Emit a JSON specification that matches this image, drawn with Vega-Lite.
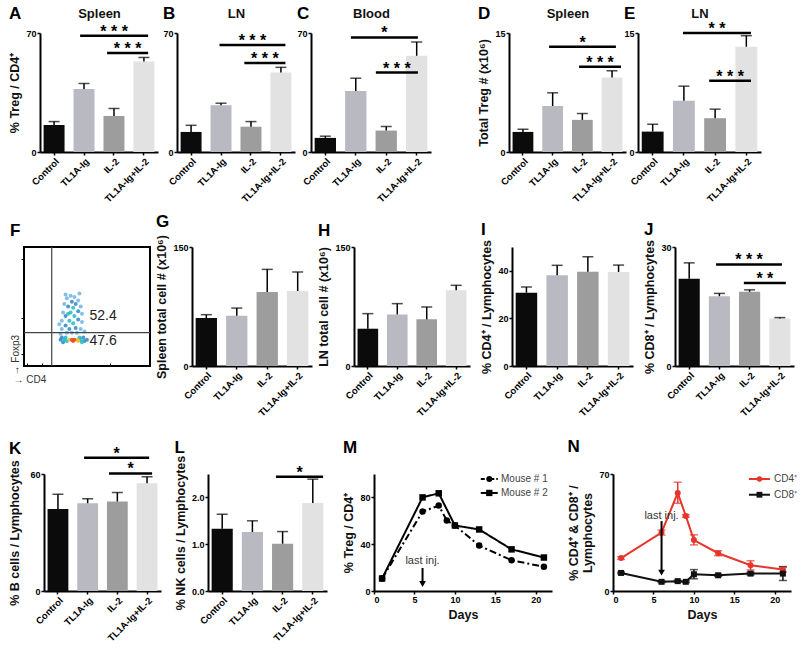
{
"$schema": "https://vega.github.io/schema/vega-lite/v6.json",
"padding": {"left": 8, "top": 5, "right": 2, "bottom": 2},
"background": "white",
"config": {
  "font": "Liberation Sans",
  "view": {"stroke": null},
  "axis": {"grid": false, "zindex": 1, "domainColor": "#000", "domainWidth": 2, "tickColor": "#000", "tickWidth": 1.5, "tickSize": 3, "labelFont": "Liberation Sans", "labelFontWeight": "bold", "labelFontSize": 9, "labelColor": "#000", "labelPadding": 1, "titleFont": "Liberation Sans", "titleFontWeight": "bold", "titleFontSize": 12.5, "titleColor": "#111", "titlePadding": 4},
  "axisBand": {"labelAngle": -45, "labelFontSize": 9.5, "tickSize": 3, "labelPadding": 1},
  "title": {"anchor": "start", "frame": "bounds", "font": "Liberation Sans", "fontSize": 17, "fontWeight": "bold", "color": "#000"},
  "range": {"category": ["#0b0b0b", "#b9b9c1", "#9d9d9d", "#e2e2e2"]}
},
"resolve": {"scale": {"color": "independent", "shape": "independent", "strokeDash": "independent"}, "legend": {"color": "independent", "shape": "independent", "strokeDash": "independent"}},
"columns": 1, "spacing": 20,
"concat": [
 {"columns": 1, "spacing": 9,
  "resolve": {"scale": {"color": "independent", "shape": "independent", "strokeDash": "independent"}, "legend": {"color": "independent", "shape": "independent", "strokeDash": "independent"}},
  "concat": [
  {"hconcat": [
   {"width": 141, "height": 119, "title": {"text": "A", "offset": -16},
    "data": {"values": [{"g": "Control", "m": 15.9, "e": 17.9}, {"g": "TL1A-Ig", "m": 37, "e": 40.3}, {"g": "IL-2", "m": 21.2, "e": 25.6}, {"g": "TL1A-Ig+IL-2", "m": 53.3, "e": 55.6}]},
    "layer": [
     {"layer": [
      {"mark": {"type": "bar"}, "encoding": {
        "x": {"field": "g", "type": "nominal", "sort": null, "title": null, "scale": {"range": [16, 134], "paddingInner": 0.3, "paddingOuter": 0.12}},
        "y": {"field": "m", "type": "quantitative", "title": "% Treg / CD4⁺", "scale": {"domain": [0, 70], "nice": false}, "axis": {"offset": -16, "labelOverlap": {"expr": "false"}, "values": [0,10,20,30,40,50,60,70]}},
        "color": {"field": "g", "type": "nominal", "sort": null, "legend": null}}},
      {"mark": {"type": "rule", "color": "#000", "strokeWidth": 1.5}, "encoding": {"x": {"field": "g", "type": "nominal", "sort": null}, "y": {"field": "m", "type": "quantitative"}, "y2": {"field": "e"}}},
      {"mark": {"type": "tick", "color": "#000", "thickness": 1.5, "size": 11}, "encoding": {"x": {"field": "g", "type": "nominal", "sort": null}, "y": {"field": "e", "type": "quantitative"}}}
     ]},
     {"data": {"values": [{"x1": 0.87, "x2": 3.14, "y": 68.4, "s": "* * *"}, {"x1": 1.77, "x2": 3.14, "y": 58.2, "s": "* * *"}]},
      "layer": [
       {"mark": {"type": "rule", "color": "#000", "strokeWidth": 2.5}, "encoding": {"x": {"field": "x1", "type": "quantitative", "scale": {"domain": [-0.47, 3.47], "range": [16, 134], "nice": false, "zero": false}, "axis": {"orient": "top", "title": "Spleen", "domain": false, "ticks": false, "labels": false, "titleFontSize": 13, "titlePadding": 13}}, "x2": {"field": "x2"}, "y": {"field": "y", "type": "quantitative"}}},
       {"transform": [{"calculate": "(datum.x1+datum.x2)/2", "as": "xm"}], "mark": {"type": "text", "fontSize": 16, "fontWeight": "bold", "baseline": "alphabetic", "dy": 1}, "encoding": {"x": {"field": "xm", "type": "quantitative"}, "y": {"field": "y", "type": "quantitative"}, "text": {"field": "s"}}}
      ]}
    ],
    "resolve": {"scale": {"x": "independent"}, "axis": {"x": "independent"}}},
   {"width": 122, "height": 119, "title": {"text": "B", "offset": -16},
    "data": {"values": [{"g": "Control", "m": 11.8, "e": 15.7}, {"g": "TL1A-Ig", "m": 27.5, "e": 28.7}, {"g": "IL-2", "m": 14.9, "e": 17.9}, {"g": "TL1A-Ig+IL-2", "m": 46.8, "e": 49.8}]},
    "layer": [
     {"layer": [
      {"mark": {"type": "bar"}, "encoding": {
        "x": {"field": "g", "type": "nominal", "sort": null, "title": null, "scale": {"range": [0, 118], "paddingInner": 0.3, "paddingOuter": 0.12}},
        "y": {"field": "m", "type": "quantitative", "title": null, "scale": {"domain": [0, 70], "nice": false}, "axis": {"labelOverlap": {"expr": "false"}, "values": [0,10,20,30,40,50,60,70]}},
        "color": {"field": "g", "type": "nominal", "sort": null, "legend": null}}},
      {"mark": {"type": "rule", "color": "#000", "strokeWidth": 1.5}, "encoding": {"x": {"field": "g", "type": "nominal", "sort": null}, "y": {"field": "m", "type": "quantitative"}, "y2": {"field": "e"}}},
      {"mark": {"type": "tick", "color": "#000", "thickness": 1.5, "size": 11}, "encoding": {"x": {"field": "g", "type": "nominal", "sort": null}, "y": {"field": "e", "type": "quantitative"}}}
     ]},
     {"data": {"values": [{"x1": 0.95, "x2": 3.15, "y": 62.9, "s": "* * *"}, {"x1": 1.78, "x2": 3.15, "y": 52.3, "s": "* * *"}]},
      "layer": [
       {"mark": {"type": "rule", "color": "#000", "strokeWidth": 2.5}, "encoding": {"x": {"field": "x1", "type": "quantitative", "scale": {"domain": [-0.47, 3.47], "range": [0, 118], "nice": false, "zero": false}, "axis": {"orient": "top", "title": "LN", "domain": false, "ticks": false, "labels": false, "titleFontSize": 13, "titlePadding": 13}}, "x2": {"field": "x2"}, "y": {"field": "y", "type": "quantitative"}}},
       {"transform": [{"calculate": "(datum.x1+datum.x2)/2", "as": "xm"}], "mark": {"type": "text", "fontSize": 16, "fontWeight": "bold", "baseline": "alphabetic", "dy": 1}, "encoding": {"x": {"field": "xm", "type": "quantitative"}, "y": {"field": "y", "type": "quantitative"}, "text": {"field": "s"}}}
      ]}
    ],
    "resolve": {"scale": {"x": "independent"}, "axis": {"x": "independent"}}},
   {"width": 186, "height": 119, "title": {"text": "C", "offset": -16},
    "data": {"values": [{"g": "Control", "m": 8.3, "e": 9.3}, {"g": "TL1A-Ig", "m": 35.9, "e": 43.4}, {"g": "IL-2", "m": 12.6, "e": 15}, {"g": "TL1A-Ig+IL-2", "m": 56.6, "e": 64.7}]},
    "layer": [
     {"layer": [
      {"mark": {"type": "bar"}, "encoding": {
        "x": {"field": "g", "type": "nominal", "sort": null, "title": null, "scale": {"range": [0, 120], "paddingInner": 0.3, "paddingOuter": 0.12}},
        "y": {"field": "m", "type": "quantitative", "title": null, "scale": {"domain": [0, 70], "nice": false}, "axis": {"labelOverlap": {"expr": "false"}, "values": [0,10,20,30,40,50,60,70]}},
        "color": {"field": "g", "type": "nominal", "sort": null, "legend": null}}},
      {"mark": {"type": "rule", "color": "#000", "strokeWidth": 1.5}, "encoding": {"x": {"field": "g", "type": "nominal", "sort": null}, "y": {"field": "m", "type": "quantitative"}, "y2": {"field": "e"}}},
      {"mark": {"type": "tick", "color": "#000", "thickness": 1.5, "size": 11}, "encoding": {"x": {"field": "g", "type": "nominal", "sort": null}, "y": {"field": "e", "type": "quantitative"}}}
     ]},
     {"data": {"values": [{"x1": 0.84, "x2": 3.04, "y": 67.4, "s": "*"}, {"x1": 1.66, "x2": 3.04, "y": 46.7, "s": "* * *"}]},
      "layer": [
       {"mark": {"type": "rule", "color": "#000", "strokeWidth": 2.5}, "encoding": {"x": {"field": "x1", "type": "quantitative", "scale": {"domain": [-0.47, 3.47], "range": [0, 120], "nice": false, "zero": false}, "axis": {"orient": "top", "title": "Blood", "domain": false, "ticks": false, "labels": false, "titleFontSize": 13, "titlePadding": 13}}, "x2": {"field": "x2"}, "y": {"field": "y", "type": "quantitative"}}},
       {"transform": [{"calculate": "(datum.x1+datum.x2)/2", "as": "xm"}], "mark": {"type": "text", "fontSize": 16, "fontWeight": "bold", "baseline": "alphabetic", "dy": 1}, "encoding": {"x": {"field": "xm", "type": "quantitative"}, "y": {"field": "y", "type": "quantitative"}, "text": {"field": "s"}}}
      ]}
    ],
    "resolve": {"scale": {"x": "independent"}, "axis": {"x": "independent"}}},
   {"width": 117, "height": 119, "title": {"text": "D", "offset": -16},
    "data": {"values": [{"g": "Control", "m": 2.53, "e": 2.87}, {"g": "TL1A-Ig", "m": 5.8, "e": 7.46}, {"g": "IL-2", "m": 4.05, "e": 4.85}, {"g": "TL1A-Ig+IL-2", "m": 9.4, "e": 10.24}]},
    "layer": [
     {"layer": [
      {"mark": {"type": "bar"}, "encoding": {
        "x": {"field": "g", "type": "nominal", "sort": null, "title": null, "scale": {"paddingInner": 0.3, "paddingOuter": 0.12}},
        "y": {"field": "m", "type": "quantitative", "title": "Total Treg # (x10⁶)", "scale": {"domain": [0, 15], "nice": false}, "axis": {"labelOverlap": {"expr": "false"}, "values": [0,5,10,15]}},
        "color": {"field": "g", "type": "nominal", "sort": null, "legend": null}}},
      {"mark": {"type": "rule", "color": "#000", "strokeWidth": 1.5}, "encoding": {"x": {"field": "g", "type": "nominal", "sort": null}, "y": {"field": "m", "type": "quantitative"}, "y2": {"field": "e"}}},
      {"mark": {"type": "tick", "color": "#000", "thickness": 1.5, "size": 11}, "encoding": {"x": {"field": "g", "type": "nominal", "sort": null}, "y": {"field": "e", "type": "quantitative"}}}
     ]},
     {"data": {"values": [{"x1": 0.88, "x2": 3.13, "y": 13.27, "s": "*"}, {"x1": 1.89, "x2": 3.3, "y": 10.75, "s": "* * *"}]},
      "layer": [
       {"mark": {"type": "rule", "color": "#000", "strokeWidth": 2.5}, "encoding": {"x": {"field": "x1", "type": "quantitative", "scale": {"domain": [-0.47, 3.47], "nice": false, "zero": false}, "axis": {"orient": "top", "title": "Spleen", "domain": false, "ticks": false, "labels": false, "titleFontSize": 13, "titlePadding": 13}}, "x2": {"field": "x2"}, "y": {"field": "y", "type": "quantitative"}}},
       {"transform": [{"calculate": "(datum.x1+datum.x2)/2", "as": "xm"}], "mark": {"type": "text", "fontSize": 16, "fontWeight": "bold", "baseline": "alphabetic", "dy": 1}, "encoding": {"x": {"field": "xm", "type": "quantitative"}, "y": {"field": "y", "type": "quantitative"}, "text": {"field": "s"}}}
      ]}
    ],
    "resolve": {"scale": {"x": "independent"}, "axis": {"x": "independent"}}},
   {"width": 123, "height": 119, "title": {"text": "E", "offset": -16},
    "data": {"values": [{"g": "Control", "m": 2.57, "e": 3.5}, {"g": "TL1A-Ig", "m": 6.45, "e": 8.3}, {"g": "IL-2", "m": 4.26, "e": 5.4}, {"g": "TL1A-Ig+IL-2", "m": 13.27, "e": 14.66}]},
    "layer": [
     {"layer": [
      {"mark": {"type": "bar"}, "encoding": {
        "x": {"field": "g", "type": "nominal", "sort": null, "title": null, "scale": {"paddingInner": 0.3, "paddingOuter": 0.12}},
        "y": {"field": "m", "type": "quantitative", "title": null, "scale": {"domain": [0, 15], "nice": false}, "axis": {"labelOverlap": {"expr": "false"}, "values": [0,5,10,15]}},
        "color": {"field": "g", "type": "nominal", "sort": null, "legend": null}}},
      {"mark": {"type": "rule", "color": "#000", "strokeWidth": 1.5}, "encoding": {"x": {"field": "g", "type": "nominal", "sort": null}, "y": {"field": "m", "type": "quantitative"}, "y2": {"field": "e"}}},
      {"mark": {"type": "tick", "color": "#000", "thickness": 1.5, "size": 11}, "encoding": {"x": {"field": "g", "type": "nominal", "sort": null}, "y": {"field": "e", "type": "quantitative"}}}
     ]},
     {"data": {"values": [{"x1": 0.97, "x2": 3.15, "y": 15.0, "s": "* *"}, {"x1": 1.81, "x2": 3.15, "y": 8.98, "s": "* * *"}]},
      "layer": [
       {"mark": {"type": "rule", "color": "#000", "strokeWidth": 2.5}, "encoding": {"x": {"field": "x1", "type": "quantitative", "scale": {"domain": [-0.47, 3.47], "nice": false, "zero": false}, "axis": {"orient": "top", "title": "LN", "domain": false, "ticks": false, "labels": false, "titleFontSize": 13, "titlePadding": 13}}, "x2": {"field": "x2"}, "y": {"field": "y", "type": "quantitative"}}},
       {"transform": [{"calculate": "(datum.x1+datum.x2)/2", "as": "xm"}], "mark": {"type": "text", "fontSize": 16, "fontWeight": "bold", "baseline": "alphabetic", "dy": 1}, "encoding": {"x": {"field": "xm", "type": "quantitative"}, "y": {"field": "y", "type": "quantitative"}, "text": {"field": "s"}}}
      ]}
    ],
    "resolve": {"scale": {"x": "independent"}, "axis": {"x": "independent"}}}
  ], "spacing": 12, "bounds": "flush",
  "resolve": {"scale": {"color": "independent", "shape": "independent", "strokeDash": "independent"}, "legend": {"color": "independent", "shape": "independent", "strokeDash": "independent"}}},
  {"hconcat": [
   {"width": 126, "height": 119, "title": {"text": "F", "offset": 6},
    "view": {"stroke": "#000", "strokeWidth": 2},
    "layer": [
     {"data": {"values": [
       {"cd4": 0.30, "foxp3": 0.31, "lvl": 1}, {"cd4": 0.30, "foxp3": 0.38, "lvl": 1}, {"cd4": 0.31, "foxp3": 0.45, "lvl": 1}, {"cd4": 0.32, "foxp3": 0.52, "lvl": 1}, {"cd4": 0.34, "foxp3": 0.57, "lvl": 1}, {"cd4": 0.37, "foxp3": 0.59, "lvl": 1}, {"cd4": 0.40, "foxp3": 0.58, "lvl": 1}, {"cd4": 0.43, "foxp3": 0.55, "lvl": 1}, {"cd4": 0.45, "foxp3": 0.50, "lvl": 1}, {"cd4": 0.46, "foxp3": 0.44, "lvl": 1}, {"cd4": 0.46, "foxp3": 0.37, "lvl": 1}, {"cd4": 0.45, "foxp3": 0.31, "lvl": 1}, {"cd4": 0.42, "foxp3": 0.28, "lvl": 1}, {"cd4": 0.38, "foxp3": 0.28, "lvl": 1}, {"cd4": 0.34, "foxp3": 0.28, "lvl": 1}, {"cd4": 0.29, "foxp3": 0.27, "lvl": 1}, {"cd4": 0.48, "foxp3": 0.29, "lvl": 1}, {"cd4": 0.44, "foxp3": 0.61, "lvl": 1}, {"cd4": 0.33, "foxp3": 0.60, "lvl": 1}, {"cd4": 0.28, "foxp3": 0.35, "lvl": 1},
       {"cd4": 0.29, "foxp3": 0.22, "lvl": 2}, {"cd4": 0.31, "foxp3": 0.20, "lvl": 2}, {"cd4": 0.48, "foxp3": 0.21, "lvl": 2}, {"cd4": 0.50, "foxp3": 0.22, "lvl": 2}, {"cd4": 0.30, "foxp3": 0.24, "lvl": 2}, {"cd4": 0.47, "foxp3": 0.24, "lvl": 2},
       {"cd4": 0.33, "foxp3": 0.34, "lvl": 2}, {"cd4": 0.33, "foxp3": 0.42, "lvl": 2}, {"cd4": 0.35, "foxp3": 0.50, "lvl": 2}, {"cd4": 0.38, "foxp3": 0.54, "lvl": 2}, {"cd4": 0.41, "foxp3": 0.52, "lvl": 2}, {"cd4": 0.43, "foxp3": 0.46, "lvl": 2}, {"cd4": 0.43, "foxp3": 0.39, "lvl": 2}, {"cd4": 0.41, "foxp3": 0.32, "lvl": 2}, {"cd4": 0.36, "foxp3": 0.31, "lvl": 2},
       {"cd4": 0.36, "foxp3": 0.38, "lvl": 3}, {"cd4": 0.37, "foxp3": 0.45, "lvl": 3}, {"cd4": 0.39, "foxp3": 0.49, "lvl": 3}, {"cd4": 0.40, "foxp3": 0.42, "lvl": 3}, {"cd4": 0.39, "foxp3": 0.36, "lvl": 3}, {"cd4": 0.35, "foxp3": 0.44, "lvl": 3},
       {"cd4": 0.32, "foxp3": 0.22, "lvl": 3}, {"cd4": 0.34, "foxp3": 0.21, "lvl": 3}, {"cd4": 0.45, "foxp3": 0.22, "lvl": 3}, {"cd4": 0.46, "foxp3": 0.20, "lvl": 3}, {"cd4": 0.33, "foxp3": 0.24, "lvl": 3}, {"cd4": 0.44, "foxp3": 0.24, "lvl": 3},
       {"cd4": 0.36, "foxp3": 0.22, "lvl": 4}, {"cd4": 0.42, "foxp3": 0.22, "lvl": 4}, {"cd4": 0.43, "foxp3": 0.21, "lvl": 4},
       {"cd4": 0.38, "foxp3": 0.22, "lvl": 5}, {"cd4": 0.40, "foxp3": 0.22, "lvl": 5}, {"cd4": 0.39, "foxp3": 0.21, "lvl": 5}
      ]},
      "mark": {"type": "circle", "size": 16, "opacity": 0.85},
      "encoding": {
       "x": {"field": "cd4", "type": "quantitative", "scale": {"domain": [0, 1], "nice": false, "zero": false}, "axis": {"title": "→ CD4", "values": [0.02,0.05,0.08,0.11,0.14,0.17,0.22,0.39,0.68,0.92], "labels": false, "domain": false, "tickSize": -3, "tickWidth": 1, "titleFontWeight": "normal", "titleFontSize": 10, "titleAlign": "left", "titleX": -11, "titleY": 13, "titleBaseline": "middle", "titleColor": "#333"}},
       "y": {"field": "foxp3", "type": "quantitative", "scale": {"domain": [0, 1], "nice": false, "zero": false}, "axis": {"title": "→ Foxp3", "values": [0.1,0.23,0.4,0.66,0.9], "labels": false, "domain": false, "tickSize": 3, "tickWidth": 1, "titleFontWeight": "normal", "titleFontSize": 10, "titleAlign": "left", "titleAngle": -90, "titleX": -9, "titleY": 128, "titleBaseline": "middle", "titleColor": "#333"}},
       "color": {"field": "lvl", "type": "ordinal", "scale": {"domain": [1, 2, 3, 4, 5], "range": ["#6fb4e8", "#2f86c9", "#22b8c2", "#f2c022", "#ec4522"]}, "legend": null}}},
     {"data": {"values": [{"gx": 0.22, "gy": 0.28}]}, "layer": [
       {"mark": {"type": "rule", "color": "#444", "strokeWidth": 1.2}, "encoding": {"x": {"field": "gx", "type": "quantitative"}}},
       {"mark": {"type": "rule", "color": "#444", "strokeWidth": 1.2}, "encoding": {"y": {"field": "gy", "type": "quantitative"}}}
     ]},
     {"data": {"values": [{"pct": "52.4", "px": 0.52, "py": 0.42}, {"pct": "47.6", "px": 0.52, "py": 0.21}]},
      "mark": {"type": "text", "align": "left", "baseline": "middle", "fontSize": 14, "color": "#222"},
      "encoding": {"x": {"field": "px", "type": "quantitative"}, "y": {"field": "py", "type": "quantitative"}, "text": {"field": "pct"}}}
    ]},
   {"width": 120, "height": 119, "title": {"text": "G", "offset": 3},
    "data": {"values": [{"g": "Control", "m": 60.4, "e": 64.7}, {"g": "TL1A-Ig", "m": 63.4, "e": 73}, {"g": "IL-2", "m": 93.3, "e": 121.8}, {"g": "TL1A-Ig+IL-2", "m": 94.5, "e": 118.5}]},
    "layer": [
      {"mark": {"type": "bar"}, "encoding": {
        "x": {"field": "g", "type": "nominal", "sort": null, "title": null, "scale": {"paddingInner": 0.3, "paddingOuter": 0.12}},
        "y": {"field": "m", "type": "quantitative", "title": "Spleen total cell # (x10⁶)", "scale": {"domain": [0, 150], "nice": false}, "axis": {"labelOverlap": {"expr": "false"}, "values": [0,50,100,150]}},
        "color": {"field": "g", "type": "nominal", "sort": null, "legend": null}}},
      {"mark": {"type": "rule", "color": "#000", "strokeWidth": 1.5}, "encoding": {"x": {"field": "g", "type": "nominal", "sort": null}, "y": {"field": "m", "type": "quantitative"}, "y2": {"field": "e"}}},
      {"mark": {"type": "tick", "color": "#000", "thickness": 1.5, "size": 11}, "encoding": {"x": {"field": "g", "type": "nominal", "sort": null}, "y": {"field": "e", "type": "quantitative"}}}
    ]},
   {"width": 116, "height": 119, "title": {"text": "H", "offset": 3},
    "data": {"values": [{"g": "Control", "m": 47, "e": 66}, {"g": "TL1A-Ig", "m": 65, "e": 78.6}, {"g": "IL-2", "m": 58.8, "e": 74.4}, {"g": "TL1A-Ig+IL-2", "m": 95.4, "e": 101.7}]},
    "layer": [
      {"mark": {"type": "bar"}, "encoding": {
        "x": {"field": "g", "type": "nominal", "sort": null, "title": null, "scale": {"paddingInner": 0.3, "paddingOuter": 0.12}},
        "y": {"field": "m", "type": "quantitative", "title": "LN total cell # (x10⁶)", "scale": {"domain": [0, 150], "nice": false}, "axis": {"labelOverlap": {"expr": "false"}, "values": [0,50,100,150]}},
        "color": {"field": "g", "type": "nominal", "sort": null, "legend": null}}},
      {"mark": {"type": "rule", "color": "#000", "strokeWidth": 1.5}, "encoding": {"x": {"field": "g", "type": "nominal", "sort": null}, "y": {"field": "m", "type": "quantitative"}, "y2": {"field": "e"}}},
      {"mark": {"type": "tick", "color": "#000", "thickness": 1.5, "size": 11}, "encoding": {"x": {"field": "g", "type": "nominal", "sort": null}, "y": {"field": "e", "type": "quantitative"}}}
    ]},
   {"width": 121, "height": 119, "title": {"text": "I", "offset": 0},
    "data": {"values": [{"g": "Control", "m": 30.8, "e": 33.2}, {"g": "TL1A-Ig", "m": 38.1, "e": 42.3}, {"g": "IL-2", "m": 39.6, "e": 45.9}, {"g": "TL1A-Ig+IL-2", "m": 39.5, "e": 42.4}]},
    "layer": [
      {"mark": {"type": "bar"}, "encoding": {
        "x": {"field": "g", "type": "nominal", "sort": null, "title": null, "scale": {"paddingInner": 0.3, "paddingOuter": 0.12}},
        "y": {"field": "m", "type": "quantitative", "title": "% CD4⁺ / Lymphocytes", "scale": {"domain": [0, 50], "nice": false}, "axis": {"labelOverlap": {"expr": "false"}, "values": [0,10,20,30,40,50]}},
        "color": {"field": "g", "type": "nominal", "sort": null, "legend": null}}},
      {"mark": {"type": "rule", "color": "#000", "strokeWidth": 1.5}, "encoding": {"x": {"field": "g", "type": "nominal", "sort": null}, "y": {"field": "m", "type": "quantitative"}, "y2": {"field": "e"}}},
      {"mark": {"type": "tick", "color": "#000", "thickness": 1.5, "size": 11}, "encoding": {"x": {"field": "g", "type": "nominal", "sort": null}, "y": {"field": "e", "type": "quantitative"}}}
    ]},
   {"width": 119, "height": 119, "title": {"text": "J", "offset": 0},
    "data": {"values": [{"g": "Control", "m": 22, "e": 26}, {"g": "TL1A-Ig", "m": 17.6, "e": 18.3}, {"g": "IL-2", "m": 18.7, "e": 19.2}, {"g": "TL1A-Ig+IL-2", "m": 12.0, "e": 12.2}]},
    "layer": [
     {"layer": [
      {"mark": {"type": "bar"}, "encoding": {
        "x": {"field": "g", "type": "nominal", "sort": null, "title": null, "scale": {"paddingInner": 0.3, "paddingOuter": 0.12}},
        "y": {"field": "m", "type": "quantitative", "title": "% CD8⁺ / Lymphocytes", "scale": {"domain": [0, 30], "nice": false}, "axis": {"labelOverlap": {"expr": "false"}, "values": [0,5,10,15,20,25,30]}},
        "color": {"field": "g", "type": "nominal", "sort": null, "legend": null}}},
      {"mark": {"type": "rule", "color": "#000", "strokeWidth": 1.5}, "encoding": {"x": {"field": "g", "type": "nominal", "sort": null}, "y": {"field": "m", "type": "quantitative"}, "y2": {"field": "e"}}},
      {"mark": {"type": "tick", "color": "#000", "thickness": 1.5, "size": 11}, "encoding": {"x": {"field": "g", "type": "nominal", "sort": null}, "y": {"field": "e", "type": "quantitative"}}}
     ]},
     {"data": {"values": [{"x1": 0.89, "x2": 3.07, "y": 25.6, "s": "* * *"}, {"x1": 1.81, "x2": 3.2, "y": 20.9, "s": "* *"}]},
      "layer": [
       {"mark": {"type": "rule", "color": "#000", "strokeWidth": 2.5}, "encoding": {"x": {"field": "x1", "type": "quantitative", "scale": {"domain": [-0.47, 3.47], "nice": false, "zero": false}, "axis": null}, "x2": {"field": "x2"}, "y": {"field": "y", "type": "quantitative"}}},
       {"transform": [{"calculate": "(datum.x1+datum.x2)/2", "as": "xm"}], "mark": {"type": "text", "fontSize": 16, "fontWeight": "bold", "baseline": "alphabetic", "dy": 1}, "encoding": {"x": {"field": "xm", "type": "quantitative", "axis": null}, "y": {"field": "y", "type": "quantitative"}, "text": {"field": "s"}}}
      ]}
    ],
    "resolve": {"scale": {"x": "independent"}, "axis": {"x": "independent"}}}
  ], "spacing": 42, "bounds": "flush",
  "resolve": {"scale": {"color": "independent", "shape": "independent", "strokeDash": "independent"}, "legend": {"color": "independent", "shape": "independent", "strokeDash": "independent"}}}
 ]},
 {"hconcat": [
   {"width": 137, "height": 117, "title": {"text": "K", "offset": -12},
    "data": {"values": [{"g": "Control", "m": 42, "e": 49.6}, {"g": "TL1A-Ig", "m": 45, "e": 47.3}, {"g": "IL-2", "m": 45.9, "e": 50.5}, {"g": "TL1A-Ig+IL-2", "m": 55.2, "e": 58.6}]},
    "layer": [
     {"layer": [
      {"mark": {"type": "bar"}, "encoding": {
        "x": {"field": "g", "type": "nominal", "sort": null, "title": null, "scale": {"range": [20, 137], "paddingInner": 0.3, "paddingOuter": 0.12}},
        "y": {"field": "m", "type": "quantitative", "title": "% B cells / Lymphocytes", "scale": {"domain": [0, 60], "nice": false}, "axis": {"offset": -20, "labelOverlap": {"expr": "false"}, "values": [0,10,20,30,40,50,60], "titlePadding": 8}},
        "color": {"field": "g", "type": "nominal", "sort": null, "legend": null}}},
      {"mark": {"type": "rule", "color": "#000", "strokeWidth": 1.5}, "encoding": {"x": {"field": "g", "type": "nominal", "sort": null}, "y": {"field": "m", "type": "quantitative"}, "y2": {"field": "e"}}},
      {"mark": {"type": "tick", "color": "#000", "thickness": 1.5, "size": 11}, "encoding": {"x": {"field": "g", "type": "nominal", "sort": null}, "y": {"field": "e", "type": "quantitative"}}}
     ]},
     {"data": {"values": [{"x1": 0.88, "x2": 3.07, "y": 68.3, "s": "*"}, {"x1": 1.72, "x2": 3.17, "y": 60.3, "s": "*"}]},
      "layer": [
       {"mark": {"type": "rule", "color": "#000", "strokeWidth": 2.5}, "encoding": {"x": {"field": "x1", "type": "quantitative", "scale": {"domain": [-0.47, 3.47], "range": [20, 137], "nice": false, "zero": false}, "axis": null}, "x2": {"field": "x2"}, "y": {"field": "y", "type": "quantitative"}}},
       {"transform": [{"calculate": "(datum.x1+datum.x2)/2", "as": "xm"}], "mark": {"type": "text", "fontSize": 16, "fontWeight": "bold", "baseline": "alphabetic", "dy": 1}, "encoding": {"x": {"field": "xm", "type": "quantitative", "axis": null}, "y": {"field": "y", "type": "quantitative"}, "text": {"field": "s"}}}
      ]}
    ],
    "resolve": {"scale": {"x": "independent"}, "axis": {"x": "independent"}}},
   {"width": 119, "height": 117, "title": {"text": "L", "offset": -2},
    "data": {"values": [{"g": "Control", "m": 1.33, "e": 1.64}, {"g": "TL1A-Ig", "m": 1.26, "e": 1.5}, {"g": "IL-2", "m": 1.01, "e": 1.27}, {"g": "TL1A-Ig+IL-2", "m": 1.88, "e": 2.39}]},
    "layer": [
     {"layer": [
      {"mark": {"type": "bar"}, "encoding": {
        "x": {"field": "g", "type": "nominal", "sort": null, "title": null, "scale": {"paddingInner": 0.3, "paddingOuter": 0.12}},
        "y": {"field": "m", "type": "quantitative", "title": "% NK cells / Lymphocytes", "scale": {"domain": [0, 2.5], "nice": false}, "axis": {"labelOverlap": {"expr": "false"}, "values": [0,0.5,1,1.5,2,2.5], "format": ".1f"}},
        "color": {"field": "g", "type": "nominal", "sort": null, "legend": null}}},
      {"mark": {"type": "rule", "color": "#000", "strokeWidth": 1.5}, "encoding": {"x": {"field": "g", "type": "nominal", "sort": null}, "y": {"field": "m", "type": "quantitative"}, "y2": {"field": "e"}}},
      {"mark": {"type": "tick", "color": "#000", "thickness": 1.5, "size": 11}, "encoding": {"x": {"field": "g", "type": "nominal", "sort": null}, "y": {"field": "e", "type": "quantitative"}}}
     ]},
     {"data": {"values": [{"x1": 1.78, "x2": 3.34, "y": 2.44, "s": "*"}]},
      "layer": [
       {"mark": {"type": "rule", "color": "#000", "strokeWidth": 2.5}, "encoding": {"x": {"field": "x1", "type": "quantitative", "scale": {"domain": [-0.47, 3.47], "nice": false, "zero": false}, "axis": null}, "x2": {"field": "x2"}, "y": {"field": "y", "type": "quantitative"}}},
       {"transform": [{"calculate": "(datum.x1+datum.x2)/2", "as": "xm"}], "mark": {"type": "text", "fontSize": 16, "fontWeight": "bold", "baseline": "alphabetic", "dy": 1}, "encoding": {"x": {"field": "xm", "type": "quantitative", "axis": null}, "y": {"field": "y", "type": "quantitative"}, "text": {"field": "s"}}}
      ]}
    ],
    "resolve": {"scale": {"x": "independent"}, "axis": {"x": "independent"}}},
   {"width": 178, "height": 117, "title": {"text": "M", "offset": 17},
    "layer": [
     {"data": {"values": [
       {"day": 1, "mouse": "Mouse # 1", "v": 10.7}, {"day": 6, "mouse": "Mouse # 1", "v": 67.9}, {"day": 8, "mouse": "Mouse # 1", "v": 73}, {"day": 9, "mouse": "Mouse # 1", "v": 60.3}, {"day": 10, "mouse": "Mouse # 1", "v": 56}, {"day": 13, "mouse": "Mouse # 1", "v": 38.8}, {"day": 17, "mouse": "Mouse # 1", "v": 26.3}, {"day": 21, "mouse": "Mouse # 1", "v": 20.7},
       {"day": 1, "mouse": "Mouse # 2", "v": 10.7}, {"day": 6, "mouse": "Mouse # 2", "v": 80}, {"day": 8, "mouse": "Mouse # 2", "v": 83.5}, {"day": 10, "mouse": "Mouse # 2", "v": 56}, {"day": 13, "mouse": "Mouse # 2", "v": 52.6}, {"day": 17, "mouse": "Mouse # 2", "v": 35.6}, {"day": 21, "mouse": "Mouse # 2", "v": 28.6}
      ]},
      "layer": [
       {"mark": {"type": "line", "color": "#000", "strokeWidth": 2}, "encoding": {
         "x": {"field": "day", "type": "quantitative", "title": "Days", "scale": {"domain": [0, 22], "nice": false}, "axis": {"labelOverlap": {"expr": "false"}, "values": [0,5,10,15,20], "labelAngle": 0}},
         "y": {"field": "v", "type": "quantitative", "title": "% Treg / CD4⁺", "scale": {"domain": [0, 100], "nice": false}, "axis": {"labelOverlap": {"expr": "false"}, "values": [0,20,40,60,80,100]}},
         "strokeDash": {"field": "mouse", "type": "nominal", "scale": {"domain": ["Mouse # 1", "Mouse # 2"], "range": [[7, 3, 2, 3], [1, 0]]}, "legend": null}}},
       {"mark": {"type": "point", "filled": true, "color": "#000", "opacity": 1, "size": 42}, "encoding": {
         "x": {"field": "day", "type": "quantitative"},
         "y": {"field": "v", "type": "quantitative"},
         "shape": {"field": "mouse", "type": "nominal", "scale": {"domain": ["Mouse # 1", "Mouse # 2"], "range": ["circle", "square"]}, "legend": null}}}
      ]},
     {"data": {"values": [{"label": "Mouse # 1"}]},
      "layer": [
       {"mark": {"type": "rule", "color": "#000", "strokeWidth": 2, "strokeDash": [4, 2, 1.5, 2]}, "encoding": {"x": {"datum": 13.2}, "x2": {"datum": 15.3}, "y": {"datum": 95.7}}},
       {"mark": {"type": "point", "shape": "circle", "filled": true, "color": "#000", "opacity": 1, "size": 36}, "encoding": {"x": {"datum": 14.25}, "y": {"datum": 95.7}}},
       {"mark": {"type": "text", "align": "left", "baseline": "middle", "fontSize": 10, "color": "#444"}, "encoding": {"x": {"datum": 15.7}, "y": {"datum": 95.7}, "text": {"field": "label"}}}
      ]},
     {"data": {"values": [{"label": "Mouse # 2"}]},
      "layer": [
       {"mark": {"type": "rule", "color": "#000", "strokeWidth": 2}, "encoding": {"x": {"datum": 13.2}, "x2": {"datum": 15.3}, "y": {"datum": 83.8}}},
       {"mark": {"type": "point", "shape": "square", "filled": true, "color": "#000", "opacity": 1, "size": 40}, "encoding": {"x": {"datum": 14.25}, "y": {"datum": 83.8}}},
       {"mark": {"type": "text", "align": "left", "baseline": "middle", "fontSize": 10, "color": "#444"}, "encoding": {"x": {"datum": 15.7}, "y": {"datum": 83.8}, "text": {"field": "label"}}}
      ]},
     {"data": {"values": [{"day": 6, "top": 19.7, "tip": 6, "ty": 25.6, "label": "last inj."}]},
      "layer": [
       {"mark": {"type": "rule", "color": "#000", "strokeWidth": 2}, "encoding": {"x": {"field": "day", "type": "quantitative"}, "y": {"field": "top", "type": "quantitative"}, "y2": {"field": "tip"}}},
       {"mark": {"type": "point", "shape": "triangle-down", "filled": true, "color": "#000", "opacity": 1, "size": 45}, "encoding": {"x": {"field": "day", "type": "quantitative"}, "y": {"field": "tip", "type": "quantitative"}}},
       {"mark": {"type": "text", "fontSize": 11, "color": "#333", "baseline": "middle"}, "encoding": {"x": {"field": "day", "type": "quantitative"}, "y": {"field": "ty", "type": "quantitative"}, "text": {"field": "label"}}}
      ]}
    ]},
   {"width": 192, "height": 117, "title": {"text": "N", "offset": 14},
    "layer": [
     {"data": {"values": [
       {"day": 1, "cell": "CD4⁺", "v": 19.7, "lo": 18.9, "hi": 20.5}, {"day": 6, "cell": "CD4⁺", "v": 35, "lo": 33.5, "hi": 36.5}, {"day": 8, "cell": "CD4⁺", "v": 58.7, "lo": 52.5, "hi": 65.1}, {"day": 9, "cell": "CD4⁺", "v": 44.9, "lo": 44.1, "hi": 45.7}, {"day": 10, "cell": "CD4⁺", "v": 30.5, "lo": 27.6, "hi": 33.6}, {"day": 13, "cell": "CD4⁺", "v": 22.6, "lo": 21.1, "hi": 24.1}, {"day": 17, "cell": "CD4⁺", "v": 15.4, "lo": 12.6, "hi": 18.1}, {"day": 21, "cell": "CD4⁺", "v": 12.8, "lo": 11.3, "hi": 14.3},
       {"day": 1, "cell": "CD8⁺", "v": 10.8, "lo": 10.3, "hi": 11.3}, {"day": 6, "cell": "CD8⁺", "v": 5.5, "lo": 5, "hi": 6}, {"day": 8, "cell": "CD8⁺", "v": 5.9, "lo": 5.4, "hi": 6.4}, {"day": 9, "cell": "CD8⁺", "v": 5.5, "lo": 5, "hi": 6}, {"day": 10, "cell": "CD8⁺", "v": 10, "lo": 7.3, "hi": 12.8}, {"day": 13, "cell": "CD8⁺", "v": 9.4, "lo": 8.8, "hi": 10}, {"day": 17, "cell": "CD8⁺", "v": 10.4, "lo": 9.6, "hi": 11.2}, {"day": 21, "cell": "CD8⁺", "v": 10.4, "lo": 6.3, "hi": 14.6}
      ]},
      "layer": [
       {"mark": {"type": "line", "strokeWidth": 2}, "encoding": {
         "x": {"field": "day", "type": "quantitative", "title": "Days", "scale": {"domain": [0, 22], "range": [14, 192], "nice": false}, "axis": {"labelOverlap": {"expr": "false"}, "values": [0,5,10,15,20], "labelAngle": 0}},
         "y": {"field": "v", "type": "quantitative", "title": ["% CD4⁺ & CD8⁺ /", "Lymphocytes"], "scale": {"domain": [0, 70], "nice": false}, "axis": {"offset": -14, "labelOverlap": {"expr": "false"}, "values": [0,10,20,30,40,50,60,70]}},
         "color": {"field": "cell", "type": "nominal", "scale": {"domain": ["CD4⁺", "CD8⁺"], "range": ["#e8352b", "#111111"]}, "legend": null}}},
       {"mark": {"type": "rule", "strokeWidth": 1.5}, "encoding": {"x": {"field": "day", "type": "quantitative"}, "y": {"field": "lo", "type": "quantitative"}, "y2": {"field": "hi"}, "color": {"field": "cell", "type": "nominal", "legend": null}}},
       {"mark": {"type": "tick", "orient": "horizontal", "size": 8, "thickness": 1.5}, "encoding": {"x": {"field": "day", "type": "quantitative"}, "y": {"field": "lo", "type": "quantitative"}, "color": {"field": "cell", "type": "nominal", "legend": null}}},
       {"mark": {"type": "tick", "orient": "horizontal", "size": 8, "thickness": 1.5}, "encoding": {"x": {"field": "day", "type": "quantitative"}, "y": {"field": "hi", "type": "quantitative"}, "color": {"field": "cell", "type": "nominal", "legend": null}}},
       {"mark": {"type": "point", "filled": true, "opacity": 1, "size": 36}, "encoding": {
         "x": {"field": "day", "type": "quantitative"},
         "y": {"field": "v", "type": "quantitative"},
         "color": {"field": "cell", "type": "nominal", "legend": null},
         "shape": {"field": "cell", "type": "nominal", "scale": {"domain": ["CD4⁺", "CD8⁺"], "range": ["circle", "square"]}, "legend": null}}}
      ]},
     {"data": {"values": [{"label": "CD4⁺"}]},
      "layer": [
       {"mark": {"type": "rule", "color": "#e8352b", "strokeWidth": 2}, "encoding": {"x": {"datum": 16.8}, "x2": {"datum": 19.4}, "y": {"datum": 67}}},
       {"mark": {"type": "point", "shape": "circle", "filled": true, "color": "#e8352b", "opacity": 1, "size": 30}, "encoding": {"x": {"datum": 18.1}, "y": {"datum": 67}}},
       {"mark": {"type": "text", "align": "left", "baseline": "middle", "fontSize": 10, "color": "#444"}, "encoding": {"x": {"datum": 19.9}, "y": {"datum": 67}, "text": {"field": "label"}}}
      ]},
     {"data": {"values": [{"label": "CD8⁺"}]},
      "layer": [
       {"mark": {"type": "rule", "color": "#111111", "strokeWidth": 2}, "encoding": {"x": {"datum": 16.8}, "x2": {"datum": 19.4}, "y": {"datum": 57.6}}},
       {"mark": {"type": "point", "shape": "square", "filled": true, "color": "#111111", "opacity": 1, "size": 34}, "encoding": {"x": {"datum": 18.1}, "y": {"datum": 57.6}}},
       {"mark": {"type": "text", "align": "left", "baseline": "middle", "fontSize": 10, "color": "#444"}, "encoding": {"x": {"datum": 19.9}, "y": {"datum": 57.6}, "text": {"field": "label"}}}
      ]},
     {"data": {"values": [{"day": 6, "top": 41.8, "tip": 11, "ty": 44.7, "label": "last inj."}]},
      "layer": [
       {"mark": {"type": "rule", "color": "#000", "strokeWidth": 2}, "encoding": {"x": {"field": "day", "type": "quantitative"}, "y": {"field": "top", "type": "quantitative"}, "y2": {"field": "tip"}}},
       {"mark": {"type": "point", "shape": "triangle-down", "filled": true, "color": "#000", "opacity": 1, "size": 45}, "encoding": {"x": {"field": "day", "type": "quantitative"}, "y": {"field": "tip", "type": "quantitative"}}},
       {"mark": {"type": "text", "fontSize": 11, "color": "#333", "baseline": "middle"}, "encoding": {"x": {"field": "day", "type": "quantitative"}, "y": {"field": "ty", "type": "quantitative"}, "text": {"field": "label"}}}
      ]}
    ]}
 ], "spacing": 47, "bounds": "flush",
 "resolve": {"scale": {"color": "independent", "shape": "independent", "strokeDash": "independent"}, "legend": {"color": "independent", "shape": "independent", "strokeDash": "independent"}}}
]
}
